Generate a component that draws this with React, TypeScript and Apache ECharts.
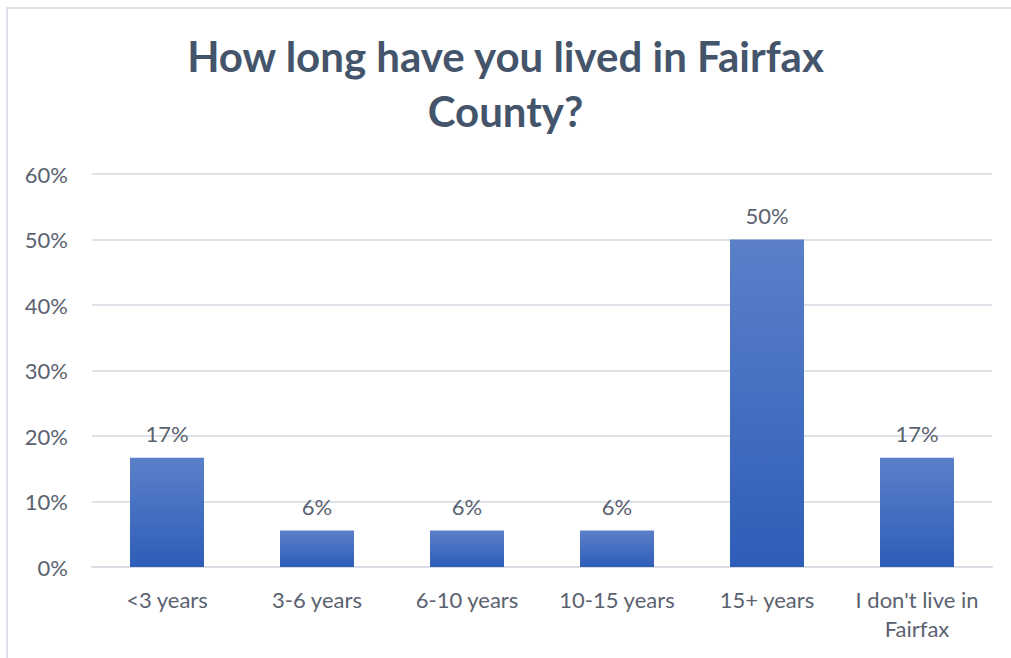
import React, { useEffect, useRef } from "react";
import * as echarts from "echarts";

const categories = ["<3 years", "3-6 years", "6-10 years", "10-15 years", "15+ years", "I don't live in\nFairfax"];
const values = [16.67, 5.56, 5.56, 5.56, 50, 16.67];
const yTicks = [0, 10, 20, 30, 40, 50, 60];
const titleText = "How long have you lived in Fairfax\nCounty?";

export default function App() {
  const ref = useRef<HTMLDivElement>(null);
  useEffect(() => {
    const chart = echarts.init(ref.current!, null, { renderer: "svg" });
    const font = "Lato, 'Open Sans', sans-serif";
    chart.setOption({
      animation: false,
      backgroundColor: "#ffffff",
      title: {
        text: titleText,
        left: "center",
        top: 23,
        textStyle: {
          fontFamily: font,
          fontWeight: "bold",
          fontSize: 42,
          color: "#44546A",
          lineHeight: 55,
        },
      },
      graphic: [
        {
          type: "rect",
          shape: { x: 7, y: 8, width: 1200, height: 1000 },
          style: { fill: "none", stroke: "#DDE2EA", lineWidth: 2 },
          silent: true,
        },
      ],
      grid: { left: 92, right: 19, top: 174, bottom: 91, containLabel: false },
      xAxis: {
        type: "category",
        data: categories,
        axisLine: { show: true, lineStyle: { color: "#D9DDE3", width: 2 } },
        axisTick: { show: false },
        axisLabel: {
          fontFamily: font,
          fontSize: 22,
          color: "#5A6270",
          margin: 18,
          lineHeight: 29,
          interval: 0,
        },
      },
      yAxis: {
        type: "value",
        min: 0,
        max: 60,
        interval: 10,
        axisLine: { show: false },
        axisTick: { show: false },
        splitLine: { lineStyle: { color: "#DDE1E8", width: 2 } },
        axisLabel: {
          fontFamily: font,
          fontSize: 22,
          color: "#5A6270",
          margin: 24,
          formatter: (v: number) => (yTicks.includes(v) ? v + "%" : ""),
        },
      },
      series: [
        {
          type: "bar",
          data: values,
          barWidth: 74,
          itemStyle: {
            color: new echarts.graphic.LinearGradient(0, 0, 0, 1, [
              { offset: 0, color: "#5B80C9" },
              { offset: 1, color: "#2E5DB8" },
            ]),
          },
          label: {
            show: true,
            position: "top",
            distance: 13,
            fontFamily: font,
            fontSize: 22,
            color: "#5A6270",
            formatter: (p: any) => Math.round(p.value) + "%",
          },
        },
      ],
    });
    return () => chart.dispose();
  }, []);
  return (
    <div
      ref={ref}
      style={{ position: "fixed", left: 0, top: 0, width: 1011, height: 658 }}
    />
  );
}
